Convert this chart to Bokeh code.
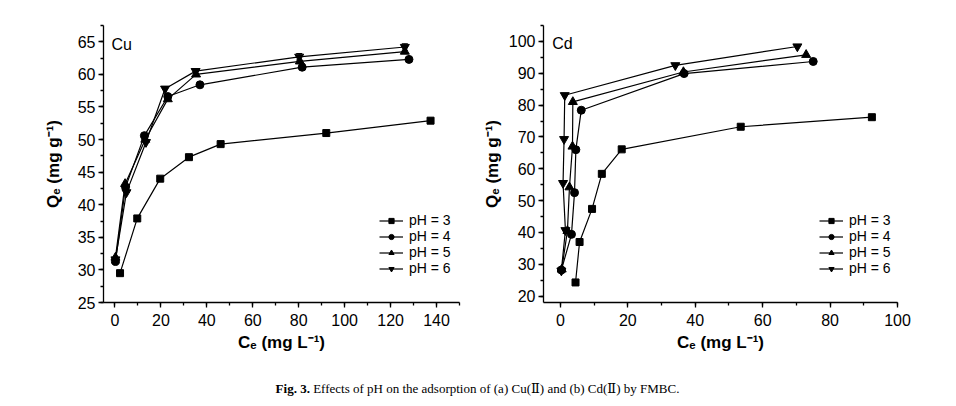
from bokeh.plotting import figure
from bokeh.models import (SingleIntervalTicker, Range1d, Legend, LegendItem, Label,
                          Whisker, TeeHead, ColumnDataSource, Div)
from bokeh.layouts import row, column
from bokeh.embed import file_html
from bokeh.resources import INLINE

# ---------------- data ----------------
series_labels = ["pH = 3", "pH = 4", "pH = 5", "pH = 6"]

# Cu(II)
cu_ph3_x = [2.2, 9.7, 19.7, 32.2, 46.0, 92.0, 137.4]
cu_ph3_y = [29.5, 37.9, 44.0, 47.3, 49.3, 51.0, 52.9]
cu_ph4_x = [0.2, 4.6, 12.8, 23.0, 37.0, 81.5, 128.0]
cu_ph4_y = [31.3, 42.7, 50.6, 56.6, 58.4, 61.1, 62.3]
cu_ph5_x = [0.2, 4.4, 13.2, 23.0, 35.3, 80.5, 126.2]
cu_ph5_y = [31.9, 43.2, 50.0, 56.2, 60.0, 62.0, 63.5]
cu_ph6_x = [0.2, 5.0, 13.5, 21.8, 35.1, 80.2, 126.2]
cu_ph6_y = [31.6, 41.9, 49.6, 57.8, 60.5, 62.7, 64.2]
cu_ph3_err = [0, 0, 0, 0, 0, 0, 0.4]
cu_ph6_err = [0, 0, 0, 0, 0, 0.5, 0.5]

# Cd(II)
cd_ph3_x = [4.5, 5.7, 9.4, 12.3, 18.2, 53.5, 92.4]
cd_ph3_y = [24.3, 37.0, 47.4, 58.4, 66.1, 73.2, 76.2]
cd_ph4_x = [0.3, 3.3, 4.2, 4.6, 6.2, 36.7, 75.0]
cd_ph4_y = [28.2, 39.4, 52.5, 66.0, 78.4, 89.9, 93.7]
cd_ph5_x = [0.4, 2.1, 2.7, 3.6, 3.7, 36.5, 72.9]
cd_ph5_y = [28.4, 40.5, 54.2, 67.0, 81.0, 90.4, 95.8]
cd_ph6_x = [0.3, 1.5, 0.8, 1.1, 1.3, 34.1, 70.3]
cd_ph6_y = [28.0, 40.7, 55.5, 69.3, 83.1, 92.5, 98.4]
cd_ph3_err = [0, 0, 0, 0, 0.6, 0, 0]

markers = ["square", "circle", "triangle", "inverted_triangle"]
marker_sizes = [7, 8, 9, 9]

FONT = "Liberation Sans"


def style_axes(p, xint, yint):
    p.xaxis.ticker = SingleIntervalTicker(interval=xint, num_minor_ticks=2)
    p.yaxis.ticker = SingleIntervalTicker(interval=yint, num_minor_ticks=2)
    for ax in (p.xaxis, p.yaxis):
        ax.axis_line_width = 1.3
        ax.axis_line_color = "black"
        ax.major_tick_line_color = "black"
        ax.minor_tick_line_color = "black"
        ax.major_tick_line_width = 1.3
        ax.minor_tick_line_width = 1.3
        ax.major_tick_out = 5
        ax.major_tick_in = 0
        ax.minor_tick_out = 3
        ax.minor_tick_in = 0
        ax.major_label_text_font = FONT
        ax.major_label_text_font_size = "16px"
        ax.major_label_text_color = "black"
        ax.axis_label_text_font = FONT
        ax.axis_label_text_font_size = "17px"
        ax.axis_label_text_font_style = "bold"
        ax.axis_label_text_color = "black"
    p.xaxis.major_label_standoff = 6
    p.xaxis.axis_label_standoff = 4
    p.yaxis.major_label_standoff = 3
    p.grid.visible = False
    p.outline_line_color = None


def make_panel(xs, ys, errs, xr, yr, xint, yint, tag, tag_xy, left_border,
               right_border, ylabel_standoff):
    p = figure(output_backend="svg", toolbar_location=None,
               frame_width=xr[2], frame_height=277,
               x_range=Range1d(xr[0], xr[1]), y_range=Range1d(yr[0], yr[1]),
               min_border_left=left_border, min_border_right=right_border,
               min_border_top=17, min_border_bottom=78,
               x_axis_label="Cₑ (mg L⁻¹)", y_axis_label="Qₑ (mg g⁻¹)")
    p.background_fill_color = "white"
    p.border_fill_color = "white"
    style_axes(p, xint, yint)
    p.yaxis.axis_label_standoff = ylabel_standoff

    legend_y = [74, 58, 42, 26]
    for i in range(4):
        src = ColumnDataSource(dict(x=xs[i], y=ys[i]))
        lr = p.line("x", "y", source=src, line_color="black", line_width=1.2)
        if errs[i] is not None:
            esrc = ColumnDataSource(dict(
                x=xs[i],
                upper=[a + b for a, b in zip(ys[i], errs[i])],
                lower=[a - b for a, b in zip(ys[i], errs[i])]))
            w = Whisker(source=esrc, base="x", upper="upper", lower="lower",
                        line_color="black", line_width=1,
                        upper_head=TeeHead(size=6, line_color="black", line_width=1),
                        lower_head=TeeHead(size=6, line_color="black", line_width=1))
            p.add_layout(w)
        sr = p.scatter("x", "y", source=src, marker=markers[i],
                       size=marker_sizes[i], fill_color="black",
                       line_color="black")
        item = LegendItem(label=series_labels[i], renderers=[lr, sr])
        legend = Legend(items=[item], location=(276, legend_y[i]), margin=0,
                        padding=0, spacing=0, glyph_width=24, glyph_height=13,
                        label_height=13, label_standoff=6,
                        label_text_font=FONT, label_text_font_size="14px",
                        label_text_color="black",
                        border_line_color=None, background_fill_alpha=0)
        p.add_layout(legend)

    p.add_layout(Label(x=tag_xy[0], y=tag_xy[1], text=tag,
                       text_font=FONT, text_font_size="16px",
                       text_color="black", text_baseline="alphabetic"))
    return p


p1 = make_panel([cu_ph3_x, cu_ph4_x, cu_ph5_x, cu_ph6_x],
                [cu_ph3_y, cu_ph4_y, cu_ph5_y, cu_ph6_y],
                [cu_ph3_err, None, None, cu_ph6_err],
                (-5, 150, 356), (25, 67.5), 20, 5, "Cu", (-1.5, 64.6),
                95, 20, 12)

p2 = make_panel([cd_ph3_x, cd_ph4_x, cd_ph5_x, cd_ph6_x],
                [cd_ph3_y, cd_ph4_y, cd_ph5_y, cd_ph6_y],
                [cd_ph3_err, None, None, None],
                (-5, 100, 354), (18, 105), 20, 10, "Cd", (-2.4, 99.2),
                64, 50, 4)

caption = Div(
    text=('<b>Fig. 3.</b> Effects of pH on the adsorption of (a) Cu(<span style="font-family:\'DejaVu Serif\'">Ⅱ</span>)'
          ' and (b) Cd(<span style="font-family:\'DejaVu Serif\'">Ⅱ</span>) by FMBC.'),
    width=939, height=18, margin=(0, 0, 0, 0),
    styles={"font-family": "Liberation Serif", "font-size": "13px",
            "text-align": "center", "color": "black", "width": "939px"})

layout = column(row(p1, p2), caption, margin=(8, 0, 0, 8))
open("out.html", "w").write(file_html(layout, INLINE))
